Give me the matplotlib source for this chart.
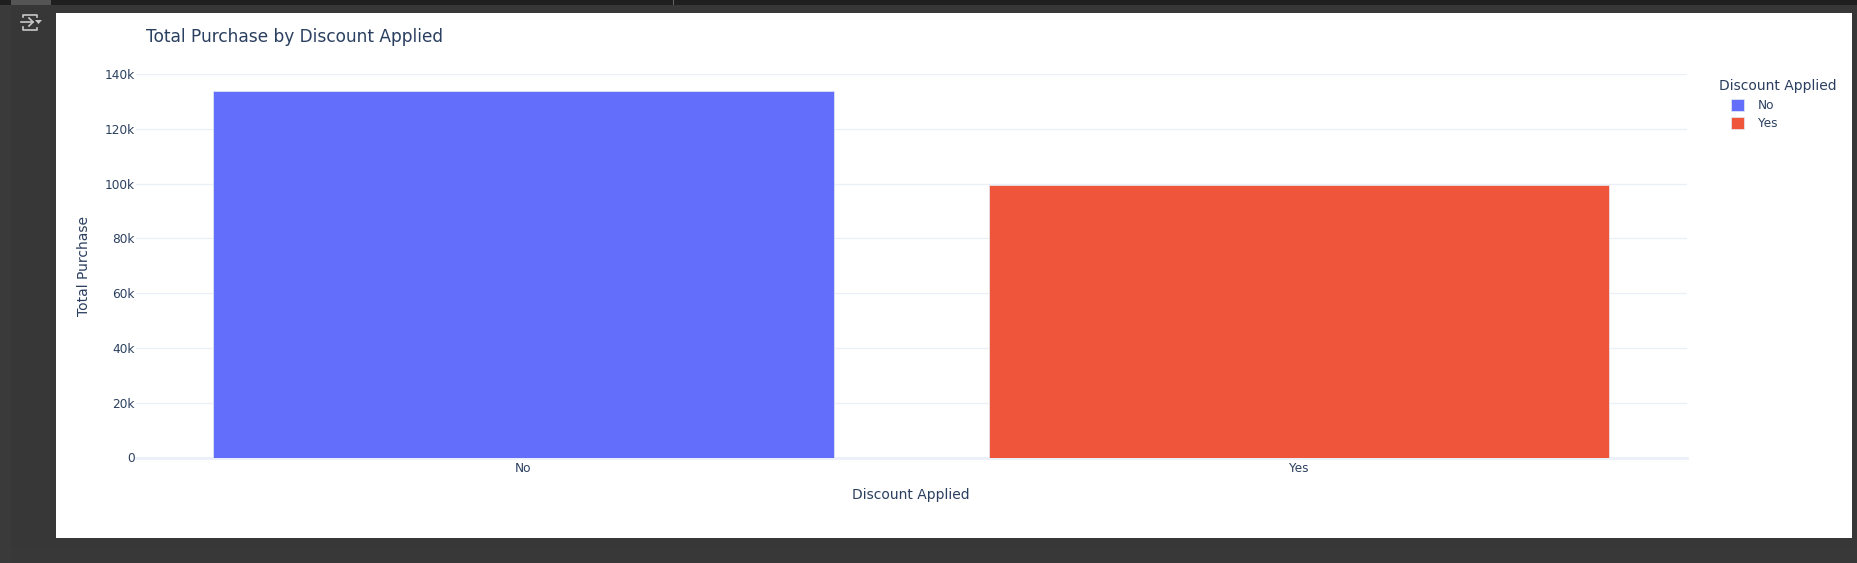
import matplotlib
matplotlib.use("Agg")
import matplotlib.pyplot as plt
from matplotlib.patches import Rectangle
from matplotlib.ticker import FuncFormatter

W, H = 1858, 563

categories = ["No", "Yes"]
total_purchase = [133700, 99600]
bar_colors = ["#636EFA", "#EF553B"]
y_ticks = [0, 20000, 40000, 60000, 80000, 100000, 120000, 140000]

TEXT = "#2A3F5F"
GRID = "#EBF0F8"

plt.rcParams["font.family"] = ["DejaVu Sans"]
fig = plt.figure(figsize=(W / 100, H / 100), dpi=100, facecolor="#383838")

# notebook chrome, in pixel coords
bg = fig.add_axes([0, 0, 1, 1], zorder=0)
bg.set_xlim(0, W)
bg.set_ylim(H, 0)
bg.axis("off")
bg.add_patch(Rectangle((0, 0), W, 5, color="#1F1F1F", lw=0))
bg.add_patch(Rectangle((11, 0), 40, 5, color="#555555", lw=0))
bg.add_patch(Rectangle((673, 0), 1, 5, color="#666666", lw=0))
bg.add_patch(Rectangle((0, 5), 11, H, color="#3A3A3A", lw=0))
bg.add_patch(Rectangle((11, 5), W - 11, 543, color="#373737", lw=0))
bg.add_patch(Rectangle((56, 13), 1796, 525, color="white", lw=0))

# output icon
ic = "#C8C8C8"
bg.plot([23, 23, 37, 37], [17, 14.5, 14.5, 16.5], color=ic, lw=1.2)
bg.plot([23, 23, 37, 37], [27, 29.5, 29.5, 27.5], color=ic, lw=1.2)
bg.plot([21, 33], [22, 22], color=ic, lw=1.2)
bg.plot([29, 33, 29], [18, 22, 26], color=ic, lw=1.2)
bg.fill([35, 42, 38.5], [20, 20, 24], color=ic, lw=0)

# plot area
x0, x1, y_top, y_bot = 135.5, 1687, 74, 457.5
ax = fig.add_axes([x0 / W, 1 - y_bot / H, (x1 - x0) / W, (y_bot - y_top) / H], zorder=1)
ax.patch.set_alpha(0)
positions = list(range(len(categories)))
bars = ax.bar(positions, total_purchase, width=0.8, color=bar_colors,
              edgecolor="#E5ECF6", linewidth=0.5, zorder=3)

ax.set_xlim(-0.5, 1.5)
ax.set_ylim(0, 140000)
ax.set_xticks(positions, categories)
ax.set_yticks(y_ticks)
ax.yaxis.set_major_formatter(FuncFormatter(lambda v, p: "0" if v == 0 else f"{int(v / 1000)}k"))
ax.tick_params(axis="both", length=0, labelsize=8.7, labelcolor=TEXT)
ax.tick_params(axis="y", pad=0.5)
ax.tick_params(axis="x", pad=3)
ax.grid(axis="y", color=GRID, lw=1.0, zorder=0)
ax.set_axisbelow(True)
for name, spine in ax.spines.items():
    spine.set_visible(False)
ax.axhline(0, color=GRID, lw=2.0, zorder=2, clip_on=False)

ax.set_xlabel("Discount Applied", fontsize=10.0, color=TEXT, labelpad=9.5)
ax.set_ylabel("Total Purchase", fontsize=10.0, color=TEXT, labelpad=10)
fig.text(146 / W, 1 - 37.5 / H, "Total Purchase by Discount Applied",
         fontsize=12.25, color=TEXT, va="center", ha="left", zorder=5)

# legend, title placed apart because the entries are indented under it
fig.text(1719 / W, 1 - 86 / H, "Discount Applied", fontsize=10.0, color=TEXT,
         va="center", ha="left", zorder=5)
leg = fig.legend(bars, categories, loc="upper left",
                 bbox_to_anchor=(1731.5 / W, 1 - 99 / H), frameon=False,
                 fontsize=8.7, labelcolor=TEXT,
                 handlelength=1.05, handleheight=1.15, handletextpad=1.15,
                 labelspacing=0.4, borderpad=0, borderaxespad=0)
leg.set_zorder(5)

fig.savefig("out.png", dpi=100, facecolor=fig.get_facecolor())
